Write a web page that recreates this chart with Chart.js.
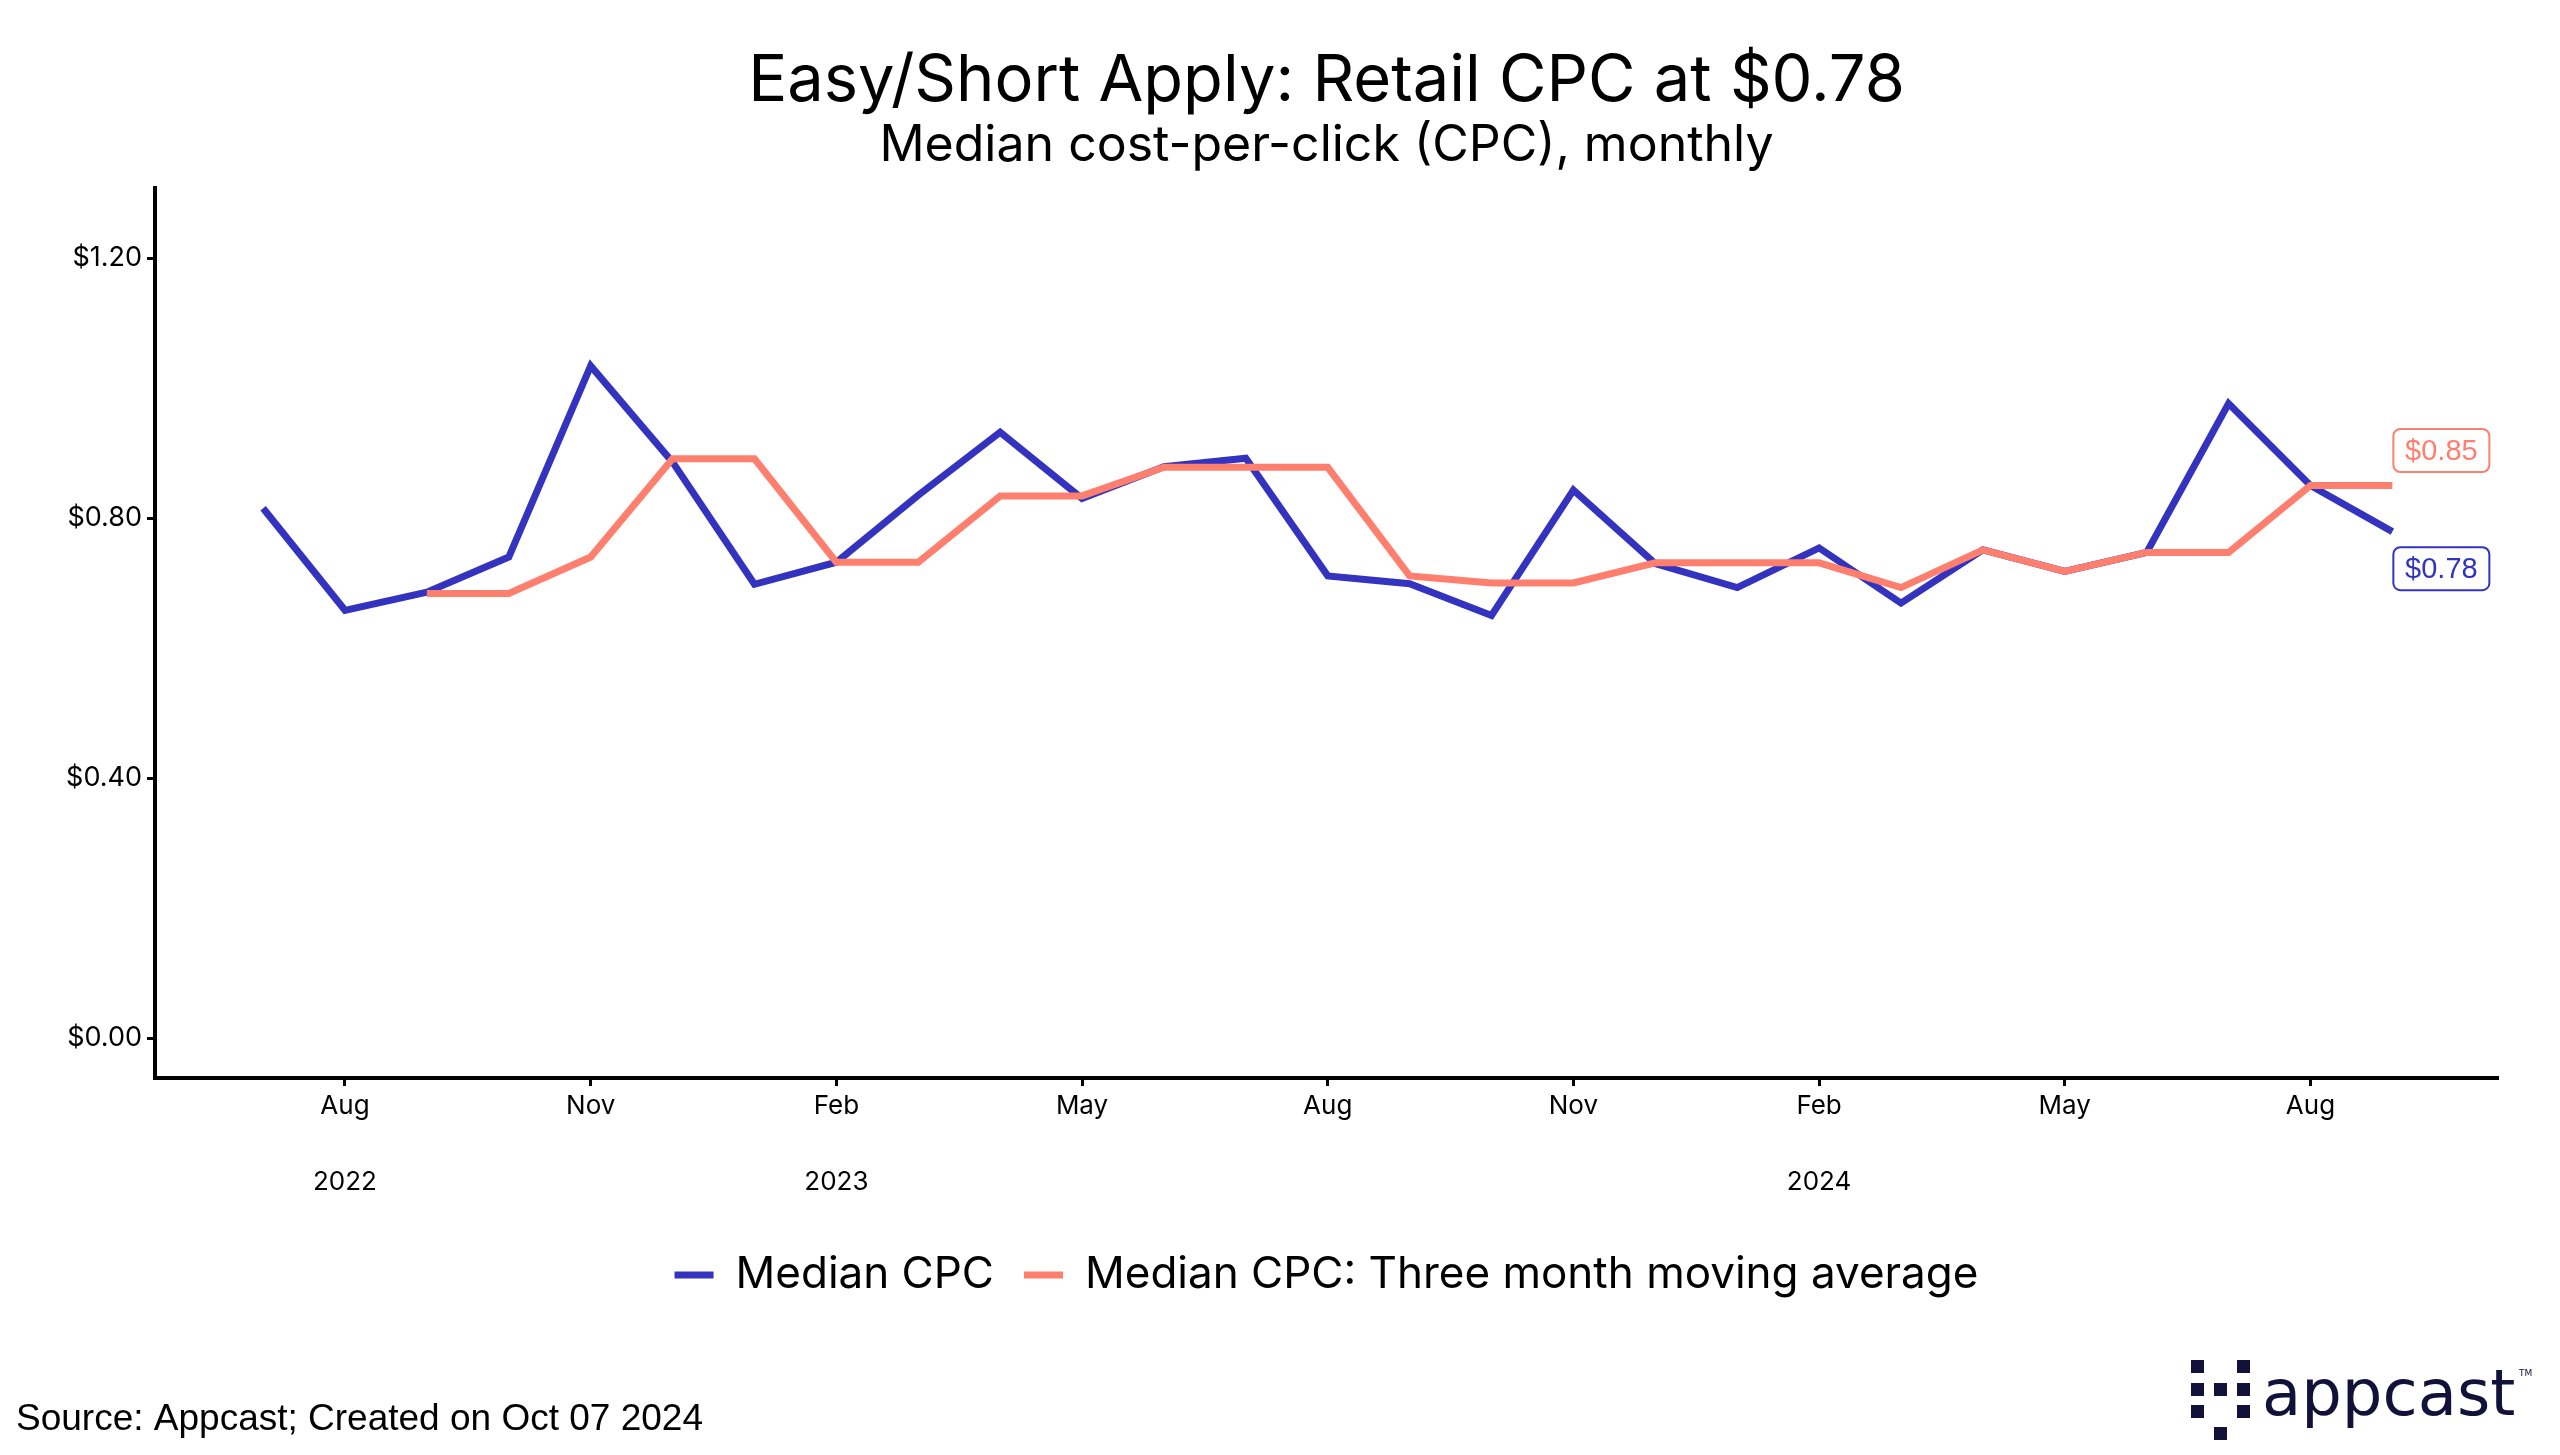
<!DOCTYPE html>
<html>
<head>
<meta charset="utf-8">
<title>Easy/Short Apply: Retail CPC</title>
<script src="https://cdn.jsdelivr.net/npm/chart.js@4.4.1/dist/chart.umd.min.js"></script>
<style>
	html, body { margin: 0; padding: 0; background: #fff; }
	#wrap { width: 2560px; height: 1455px; }
</style>
</head>
<body>
<div id="wrap"><canvas id="cpcChart" width="2560" height="1455"></canvas></div>
<script>
// monthly data, Jul 2022 .. Sep 2024
const months = [
	'Jul 2022', 'Aug 2022', 'Sep 2022', 'Oct 2022', 'Nov 2022', 'Dec 2022',
	'Jan 2023', 'Feb 2023', 'Mar 2023', 'Apr 2023', 'May 2023', 'Jun 2023',
	'Jul 2023', 'Aug 2023', 'Sep 2023', 'Oct 2023', 'Nov 2023', 'Dec 2023',
	'Jan 2024', 'Feb 2024', 'Mar 2024', 'Apr 2024', 'May 2024', 'Jun 2024',
	'Jul 2024', 'Aug 2024', 'Sep 2024'
];
const medianCpc = [
	0.815, 0.658, 0.686, 0.740, 1.034, 0.886,
	0.698, 0.732, 0.835, 0.932, 0.830, 0.879,
	0.892, 0.711, 0.699, 0.650, 0.843, 0.730,
	0.693, 0.754, 0.669, 0.751, 0.718, 0.747,
	0.976, 0.850, 0.779
];
const movingAvg = [
	null, null, 0.684, 0.684, 0.740, 0.891,
	0.891, 0.732, 0.732, 0.834, 0.834, 0.878,
	0.878, 0.878, 0.711, 0.700, 0.700, 0.731,
	0.731, 0.731, 0.693, 0.751, 0.718, 0.747,
	0.747, 0.850, 0.850
];
const seriesNames = ['Median CPC', 'Median CPC: Three month moving average'];
const xTickIndex = [1, 4, 7, 10, 13, 16, 19, 22, 25];
const xTickLabels = [
	['Aug', '', '2022'], ['Nov'], ['Feb', '', '2023'], ['May'], ['Aug'],
	['Nov'], ['Feb', '', '2024'], ['May'], ['Aug']
];
const yTicks = [0, 0.4, 0.8, 1.2];

const BLUE = '#3333bf';
const SALMON = '#ff7f6e';

// end-of-line value boxes, title block, footer, logo
const decorPlugin = {
	id: 'decor',
	afterLayout(chart) {
		// centre the legend on the plot area instead of the canvas
		const lg = chart.legend;
		if (!lg || !lg.lineWidths) return;
		const pad = lg.options.labels.padding;
		const start = (lg.left + pad + lg.right - lg.lineWidths[0]) / 2;
		const mid = start + (lg.lineWidths[0] - pad) / 2;
		const dx = (chart.chartArea.left + chart.chartArea.right) / 2 - mid;
		lg.left += dx;
		lg.right += dx;
	},
	afterDatasetsDraw(chart) {
		const ctx = chart.ctx;
		const offsets = [37, -35];
		chart.data.datasets.forEach((ds, di) => {
			const meta = chart.getDatasetMeta(di);
			const last = ds.data.length - 1;
			const pt = meta.data[last];
			const val = ds.data[last].y;
			const text = '$' + val.toFixed(2);
			const w = 96, h = 43;
			const x = pt.x + 1;
			const y = pt.y + offsets[di] - h / 2;
			ctx.save();
			ctx.beginPath();
			ctx.roundRect(x, y, w, h, 7);
			ctx.fillStyle = '#fff';
			ctx.fill();
			ctx.lineWidth = 2;
			ctx.strokeStyle = ds.borderColor;
			ctx.stroke();
			ctx.font = '29px "Liberation Sans", Arial, sans-serif';
			ctx.fillStyle = ds.borderColor;
			ctx.textAlign = 'center';
			ctx.textBaseline = 'middle';
			ctx.fillText(text, x + w / 2, y + h / 2 + 1);
			ctx.restore();
		});
	},
	afterDraw(chart) {
		const ctx = chart.ctx;
		const cx = (chart.chartArea.left + chart.chartArea.right) / 2;
		ctx.save();
		ctx.fillStyle = '#000';
		ctx.textAlign = 'center';
		ctx.textBaseline = 'middle';
		ctx.font = '65px Inter, sans-serif';
		ctx.fillText('Easy/Short Apply: Retail CPC at $0.78', cx, 81);
		ctx.font = '50px Inter, sans-serif';
		ctx.fillText('Median cost-per-click (CPC), monthly', cx, 146);

		ctx.textAlign = 'left';
		ctx.font = '37px "Liberation Sans", Arial, sans-serif';
		ctx.fillText('Source: Appcast; Created on Oct 07 2024', 16, 1420);

		// appcast logo
		ctx.fillStyle = '#11113a';
		const cols = [2191, 2214, 2237];
		const rows = [1360, 1383, 1405, 1427];
		const cells = [[0, 0], [0, 1], [0, 2], [1, 1], [1, 3], [2, 0], [2, 1], [2, 2]];
		cells.forEach(([c, r]) => ctx.fillRect(cols[c], rows[r], 13, 13));
		ctx.font = '64px "DejaVu Sans", sans-serif';
		ctx.textBaseline = 'alphabetic';
		ctx.fillText('appcast', 2262, 1415);
		ctx.font = '9px "DejaVu Sans", sans-serif';
		ctx.fillText('TM', 2519, 1376);
		ctx.restore();
	}
};

const ctx = document.getElementById('cpcChart').getContext('2d');
const axisGrid = {
	display: true,
	drawOnChartArea: false,
	drawTicks: true,
	tickLength: 8,
	tickWidth: 3,
	tickColor: '#000'
};
const axisBorder = { display: true, color: '#000', width: 4 };

new Chart(ctx, {
	type: 'line',
	data: {
		datasets: [
			{
				label: seriesNames[0],
				data: medianCpc.map((v, i) => ({ x: i, y: v })),
				borderColor: BLUE,
				backgroundColor: BLUE,
				borderWidth: 7,
				order: 1
			},
			{
				label: seriesNames[1],
				data: movingAvg.map((v, i) => ({ x: i, y: v })),
				borderColor: SALMON,
				backgroundColor: SALMON,
				borderWidth: 7,
				order: 0
			}
		]
	},
	options: {
		responsive: false,
		animation: false,
		devicePixelRatio: 1,
		elements: {
			point: { radius: 0, hoverRadius: 0 },
			line: { tension: 0, borderJoinStyle: 'miter', borderCapStyle: 'butt', fill: false }
		},
		layout: { padding: { top: 188, right: 62, left: 0, bottom: 148 } },
		scales: {
			x: {
				type: 'linear',
				min: -1.32,
				max: 27.29,
				afterBuildTicks: (s) => { s.ticks = xTickIndex.map((v) => ({ value: v })); },
				afterFit: (s) => { s.height = 145; },
				ticks: {
					callback: (v, i) => xTickLabels[i],
					font: { family: 'Inter', size: 26, lineHeight: 1.46 },
					color: '#000',
					padding: 1,
					maxRotation: 0,
					autoSkip: false
				},
				grid: axisGrid,
				border: axisBorder
			},
			y: {
				min: -0.0615,
				max: 1.3077,
				afterBuildTicks: (s) => { s.ticks = yTicks.map((v) => ({ value: v })); },
				afterFit: (s) => { s.width = 155; },
				ticks: {
					callback: (v) => '$' + v.toFixed(2),
					font: { family: 'Inter', size: 27 },
					color: '#000',
					padding: 5
				},
				grid: axisGrid,
				border: axisBorder
			}
		},
		plugins: {
			tooltip: { enabled: false },
			legend: {
				position: 'bottom',
				align: 'center',
				labels: {
					usePointStyle: true,
					pointStyle: 'line',
					pointStyleWidth: 39,
					font: { family: 'Inter', size: 44 },
					color: '#000',
					padding: 30,
					sort: (a, b) => a.datasetIndex - b.datasetIndex
				}
			}
		}
	},
	plugins: [decorPlugin]
});
</script>
</body>
</html>
